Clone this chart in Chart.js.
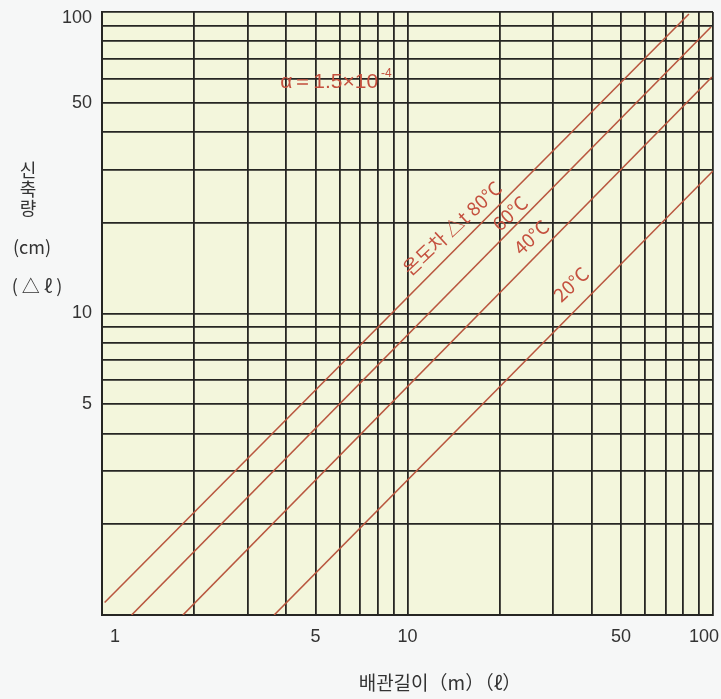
<!DOCTYPE html>
<html>
<head>
<meta charset="utf-8">
<script src="https://cdn.jsdelivr.net/npm/chart.js@4.4.1/dist/chart.umd.min.js"></script>
<style>
  body { margin: 0; background: #f6f7f7; }
  canvas { display: block; }
</style>
</head>
<body>
<canvas id="chart" width="721" height="699"></canvas>
<script>
// grid values (1..9 x 10^n) for both log axes
const gridValues = [1, 2, 3, 4, 5, 6, 7, 8, 9, 10, 20, 30, 40, 50, 60, 70, 80, 90, 100];
const xTickLabels = [1, 5, 10, 50, 100];
const yTickLabels = [5, 10, 50, 100];

// pipe length (m) and expansion (cm) at the two ends of each line
const temps = ["80°C", "60°C", "40°C", "20°C"];
const length80 = [1.02, 83.4];
const expansion80 = [1.10, 98.5];
const length60 = [1.25, 98.5];
const expansion60 = [1.0, 89.2];
const length40 = [1.84, 99.2];
const expansion40 = [1.0, 60.9];
const length20 = [3.66, 100];
const expansion20 = [1.0, 29.7];

const toPoints = (xs, ys) => xs.map((x, i) => ({ x: x, y: ys[i] }));

const lineColor = "#b9573f";
const textRed = "#c4503e";
const gridColor = "#262623";
const numFont = '"Liberation Sans", Arial, sans-serif';
const krFont = '"Noto Sans CJK KR", "Noto Sans", sans-serif';

// light yellow paper behind the plot area
const paperPlugin = {
  id: "paper",
  beforeDraw(chart) {
    const { ctx, chartArea } = chart;
    ctx.save();
    ctx.fillStyle = "#f3f6dc";
    ctx.fillRect(chartArea.left, chartArea.top, chartArea.right - chartArea.left, chartArea.bottom - chartArea.top);
    ctx.restore();
  },
};

// tick labels, axis titles and the red annotations
const textPlugin = {
  id: "texts",
  afterDraw(chart) {
    const { ctx } = chart;
    const xs = chart.scales.x;
    const ys = chart.scales.y;
    ctx.save();

    // y tick labels
    ctx.fillStyle = "#333";
    ctx.font = "18px " + numFont;
    ctx.textAlign = "right";
    ctx.textBaseline = "middle";
    yTickLabels.forEach((v) => {
      let py = ys.getPixelForValue(v);
      if (v === 100) py += 6;
      ctx.fillText(String(v), 92, py);
    });

    // x tick labels
    xTickLabels.forEach((v, i) => {
      const px = xs.getPixelForValue(v);
      if (i === 0) {
        ctx.textAlign = "left";
        ctx.fillText(String(v), px + 8, 637);
      } else if (i === xTickLabels.length - 1) {
        ctx.textAlign = "right";
        ctx.fillText(String(v), px + 6, 637);
      } else {
        ctx.textAlign = "center";
        ctx.fillText(String(v), px, 637);
      }
    });

    // axis titles
    ctx.font = "18px " + krFont;
    ctx.textAlign = "center";
    ctx.fillText("신", 28, 170);
    ctx.fillText("축", 28, 189);
    ctx.fillText("량", 28, 208);
    ctx.fillText("(cm)", 32, 247);
    ctx.fillText("( △ ℓ )", 37, 286);
    ctx.font = "19px " + krFont;
    ctx.fillText("배관길이（m）（ℓ）", 440, 683);

    // alpha note
    ctx.fillStyle = textRed;
    ctx.textAlign = "left";
    ctx.font = "21px " + numFont;
    const ax = xs.getPixelForValue(3.83);
    const ay = ys.getPixelForValue(58.6);
    ctx.fillText("α＝1.5×10", ax, ay);
    const w = ctx.measureText("α＝1.5×10").width;
    ctx.font = "12px " + numFont;
    ctx.fillText("-4", ax + w + 3, ay - 8);

    // line labels, rotated along the lines
    const labels = [
      { text: "온도차 △t " + temps[0], x: 14.0, y: 19.2 },
      { text: temps[1], x: 21.65, y: 21.5 },
      { text: temps[2], x: 25.4, y: 17.9 },
      { text: temps[3], x: 34.3, y: 12.5 },
    ];
    ctx.font = "19px " + krFont;
    ctx.textAlign = "center";
    ctx.textBaseline = "middle";
    labels.forEach((l) => {
      ctx.save();
      ctx.translate(xs.getPixelForValue(l.x), ys.getPixelForValue(l.y));
      ctx.rotate(-43 * Math.PI / 180);
      ctx.fillText(l.text, 0, 0);
      ctx.restore();
    });

    ctx.restore();
  },
};

const lineDataset = (label, xs, ys) => ({
  label: label,
  data: toPoints(xs, ys),
  showLine: true,
  borderColor: lineColor,
  borderWidth: 1.6,
  pointRadius: 0,
  tension: 0,
});

const logAxis = {
  type: "logarithmic",
  min: 1,
  max: 100,
  afterBuildTicks: (scale) => {
    scale.ticks = gridValues.map((v) => ({ value: v }));
  },
  ticks: { display: false },
  grid: { color: gridColor, lineWidth: 1.8, drawTicks: false },
  border: { display: true, color: gridColor, width: 2 },
};

new Chart(document.getElementById("chart"), {
  type: "scatter",
  data: {
    datasets: [
      lineDataset(temps[0], length80, expansion80),
      lineDataset(temps[1], length60, expansion60),
      lineDataset(temps[2], length40, expansion40),
      lineDataset(temps[3], length20, expansion20),
    ],
  },
  options: {
    responsive: false,
    animation: false,
    devicePixelRatio: 1,
    layout: { padding: { left: 102, top: 12, right: 8, bottom: 84 } },
    plugins: {
      legend: { display: false },
      tooltip: { enabled: false },
    },
    scales: {
      x: Object.assign({}, logAxis, { afterFit: (s) => { s.height = 0; } }),
      y: Object.assign({}, logAxis, { afterFit: (s) => { s.width = 0; } }),
    },
  },
  plugins: [paperPlugin, textPlugin],
});
</script>
</body>
</html>
